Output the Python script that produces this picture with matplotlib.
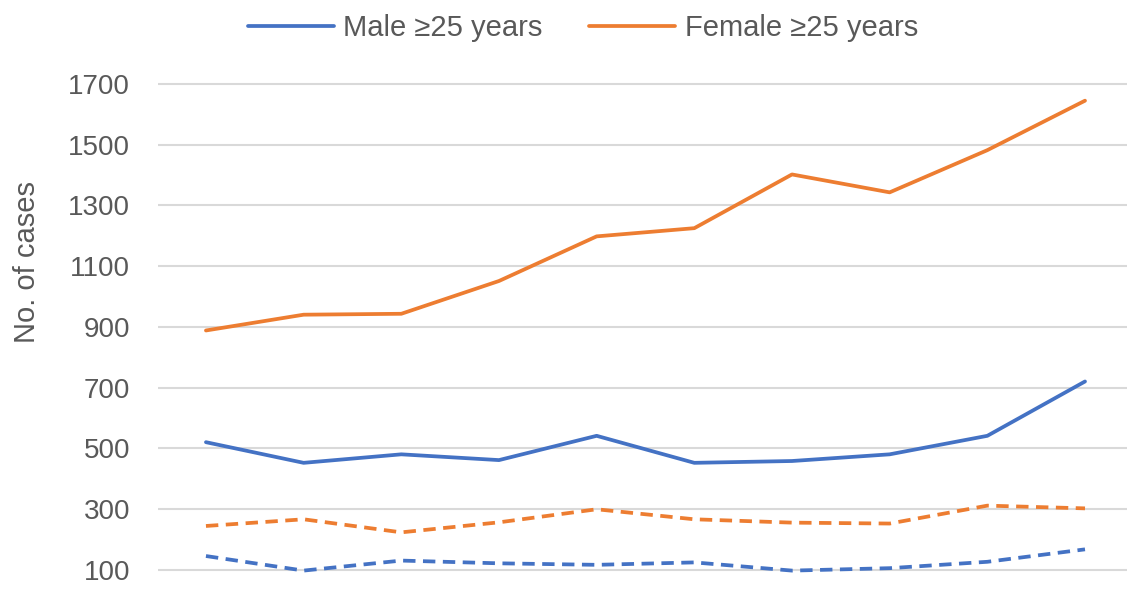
import matplotlib
matplotlib.use("Agg")
import matplotlib.pyplot as plt

years = list(range(10))
male_25 = [520, 452, 480, 461, 541, 452, 458, 480, 541, 720]
female_25 = [888, 940, 943, 1051, 1198, 1225, 1402, 1343, 1482, 1645]
female_other = [244, 266, 223, 256, 299, 266, 255, 252, 311, 302]
male_other = [145, 97, 130, 121, 116, 124, 97, 105, 126, 167]
yticks = [100, 300, 500, 700, 900, 1100, 1300, 1500, 1700]

blue = "#4472C4"
orange = "#ED7D31"
gray = "#595959"

plt.rcParams['font.family'] = ['Liberation Sans', 'DejaVu Sans']

fig = plt.figure(figsize=(11.27, 5.92), dpi=100)
W, H = 1127, 592
left_px, right_px, top_px, bottom_px = 158, 1127, 60, 592
ax = fig.add_axes([left_px / W, 1 - bottom_px / H, (right_px - left_px) / W, (bottom_px - top_px) / H])

l1, = ax.plot(years, male_25, color=blue, lw=2.7, solid_capstyle='round', label="Male \u226525 years")
l2, = ax.plot(years, female_25, color=orange, lw=2.7, solid_capstyle='round', label="Female \u226525 years")
ax.plot(years, female_other, color=orange, lw=2.7, dashes=(3.3, 2.0))
ax.plot(years, male_other, color=blue, lw=2.7, dashes=(3.3, 2.0))

ax.set_ylim(26.5, 1779)
ax.set_xlim(-0.491, 9.43)
ax.set_yticks(yticks)
ax.set_yticklabels([str(v) for v in yticks])
ax.set_xticks([])
ax.grid(axis='y', color='#D9D9D9', lw=1.5)
ax.set_axisbelow(True)
for s in ax.spines.values():
    s.set_visible(False)
ax.tick_params(axis='y', length=0, pad=20, labelsize=20, labelcolor=gray)
ax.set_ylabel("No. of cases", fontsize=21, color=gray)
ax.yaxis.set_label_coords(-0.121, 0.62)

fig.legend(handles=[l1, l2], loc='center', bbox_to_anchor=(583 / W, 1 - 28 / H), ncol=2,
           frameon=False, fontsize=21, labelcolor=gray, handlelength=2.95,
           handletextpad=0.32, columnspacing=1.6)

fig.savefig("out.png", dpi=100)
